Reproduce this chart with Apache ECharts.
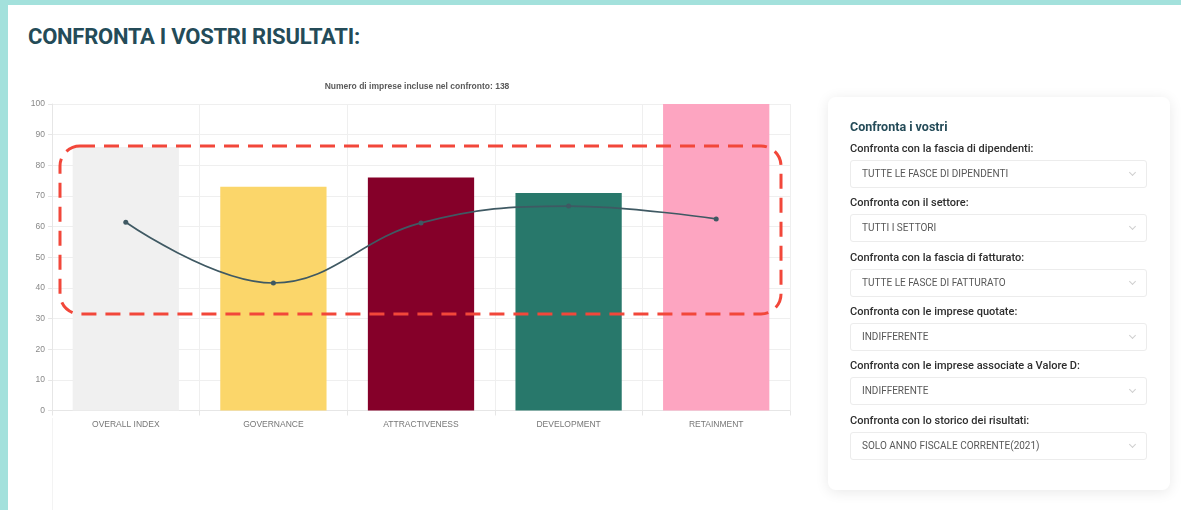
<!DOCTYPE html>
<html lang="it">
<head>
<meta charset="utf-8">
<title>Confronta i vostri risultati</title>
<script src="https://cdn.jsdelivr.net/npm/echarts@6/dist/echarts.min.js"></script>
<style>
  html, body { margin: 0; padding: 0; width: 1181px; height: 510px; overflow: hidden; background: #ffffff; font-family: Roboto, "Liberation Sans", Arial, sans-serif; }
  .frame-top { position: absolute; left: 0; top: 0; width: 1181px; height: 5px; background: #a3e1dc; }
  .frame-left { position: absolute; left: 0; top: 0; width: 8px; height: 510px; background: #a3e1dc; }
  .panel-edge { position: absolute; left: 52px; top: 418px; width: 1px; height: 92px; background: #f3f3f3; }
  h1 { position: absolute; left: 28px; top: 23px; margin: 0; font-size: 22px; line-height: 28px; font-weight: 700; color: #244b58; letter-spacing: -0.25px; }
  #chart { position: absolute; left: 0; top: 0; width: 820px; height: 510px; }
  .card { position: absolute; left: 828px; top: 97px; width: 342px; height: 393px; background: #fff; border-radius: 8px; box-shadow: 0 2px 14px rgba(0,0,0,0.09); }
  .card h2 { position: absolute; left: 22px; top: 20px; margin: 0; font-size: 12.5px; line-height: 20px; font-weight: 700; color: #244b58; }
  .group { position: absolute; left: 22px; width: 297px; }
  .group .lbl { font-size: 11px; line-height: 22px; color: #2e2e2e; font-weight: 500; }
  .group .sel { position: relative; height: 26px; border: 1px solid #ececec; border-radius: 3px; font-size: 10px; line-height: 26px; color: #585858; padding-left: 11px; }
  .group .sel::after { content: ""; position: absolute; right: 11px; top: 9px; width: 4px; height: 4px; border-right: 1px solid #cfcfcf; border-bottom: 1px solid #cfcfcf; transform: rotate(45deg); }
</style>
</head>
<body>
<div class="frame-top"></div>
<div class="frame-left"></div>
<div class="panel-edge"></div>
<h1>CONFRONTA I VOSTRI RISULTATI:</h1>
<div id="chart"></div>
<div class="card" id="card">
  <h2>Confronta i vostri</h2>
</div>
<script>
// Chart data
const categories = ['OVERALL INDEX', 'GOVERNANCE', 'ATTRACTIVENESS', 'DEVELOPMENT', 'RETAINMENT'];
const ownScores = [86, 73, 76, 71, 100];
const benchmarkScores = [61.4, 41.6, 61.2, 66.7, 62.5];
const barColors = ['#f0f0f0', '#fbd66a', '#850029', '#28786b', '#fda5c1'];
const yTicks = { min: 0, max: 100, step: 10 };
const companyCount = 138;

// Filter panel content
const filters = [
  ['Confronta con la fascia di dipendenti:', 'TUTTE LE FASCE DI DIPENDENTI'],
  ['Confronta con il settore:', 'TUTTI I SETTORI'],
  ['Confronta con la fascia di fatturato:', 'TUTTE LE FASCE DI FATTURATO'],
  ['Confronta con le imprese quotate:', 'INDIFFERENTE'],
  ['Confronta con le imprese associate a Valore D:', 'INDIFFERENTE'],
  ['Confronta con lo storico dei risultati:', 'SOLO ANNO FISCALE CORRENTE(2021)']
];

const card = document.getElementById('card');
filters.forEach(function (f, i) {
  const g = document.createElement('div');
  g.className = 'group';
  g.style.top = (41 + i * 54.3) + 'px';
  const l = document.createElement('div');
  l.className = 'lbl';
  l.textContent = f[0];
  const s = document.createElement('div');
  s.className = 'sel';
  s.textContent = f[1];
  g.appendChild(l);
  g.appendChild(s);
  card.appendChild(g);
});

const chart = echarts.init(document.getElementById('chart'), null, { renderer: 'canvas' });
const axisGray = '#e6e6e6';
const font = '"Liberation Sans", Arial, sans-serif';

chart.setOption({
  animation: false,
  title: {
    text: 'Numero di imprese incluse nel confronto: ' + companyCount,
    left: 412,
    top: 77,
    textAlign: 'center',
    textStyle: { fontSize: 8.5, fontWeight: 'bold', color: '#5a5a5a', fontFamily: font }
  },
  grid: { left: 52, top: 104, right: 30, height: 306.5, containLabel: false },
  xAxis: {
    type: 'category',
    data: categories,
    axisLine: { lineStyle: { color: axisGray } },
    axisTick: { show: true, length: 5, lineStyle: { color: axisGray } },
    splitLine: { show: true, lineStyle: { color: '#efefef' } },
    axisLabel: { color: '#777', fontSize: 8.5, margin: 10, fontFamily: font }
  },
  yAxis: {
    type: 'value',
    min: yTicks.min,
    max: yTicks.max,
    interval: yTicks.step,
    axisLine: { show: true, lineStyle: { color: axisGray } },
    axisTick: { show: true, length: 4, lineStyle: { color: axisGray } },
    splitLine: { show: true, lineStyle: { color: '#efefef' } },
    axisLabel: { color: '#888', fontSize: 8.5, margin: 7, fontFamily: font }
  },
  series: [
    {
      type: 'bar',
      barWidth: '72%',
      data: ownScores.map(function (v, i) {
        return { value: v, itemStyle: { color: barColors[i] } };
      }),
      z: 2
    },
    {
      type: 'line',
      data: benchmarkScores,
      smooth: 0.4,
      symbol: 'circle',
      symbolSize: 5,
      lineStyle: { color: '#3f5963', width: 1.7 },
      itemStyle: { color: '#3f5963' },
      z: 3
    }
  ],
  graphic: [
    {
      type: 'rect',
      z: 10,
      shape: { x: 60, y: 146, width: 721, height: 168, r: 20 },
      style: { fill: 'none', stroke: '#f2473a', lineWidth: 3, lineDash: [15, 9] }
    }
  ]
});
</script>
</body>
</html>
